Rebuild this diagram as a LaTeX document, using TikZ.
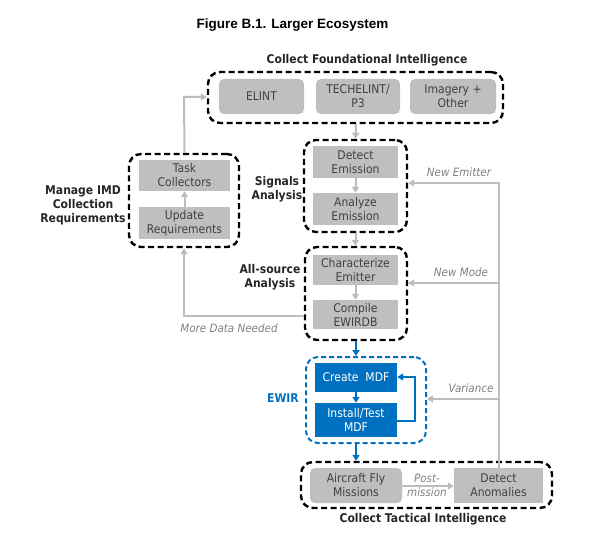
\documentclass[tikz,border=0pt]{standalone}
\usepackage{fontspec}
\usetikzlibrary{arrows.meta}
\newfontfamily\boxfont[FakeStretch=0.9]{DejaVu Sans}
\newfontfamily\titlefont{Liberation Sans}
\definecolor{boxgray}{HTML}{BFBFBF}
\definecolor{txtgray}{HTML}{404040}
\definecolor{lblgray}{HTML}{808080}
\definecolor{arrgray}{HTML}{BDBDBD}
\definecolor{ewblue}{HTML}{0070C0}
\definecolor{lbldark}{HTML}{262626}
\begin{document}
\begin{tikzpicture}[x=1pt,y=-1pt,
  container/.style={draw=black,line width=2.4pt,dash pattern=on 6pt off 3.5pt,rounded corners=12pt,inner sep=0pt},
  bluecontainer/.style={draw=ewblue,line width=2pt,dash pattern=on 5pt off 3pt,rounded corners=12pt,inner sep=0pt},
  graybox/.style={fill=boxgray,text=txtgray,inner sep=0pt,align=center,font=\boxfont\fontsize{12}{14}\selectfont},
  roundbox/.style={graybox,rounded corners=5pt},
  bluebox/.style={fill=ewblue,text=white,inner sep=0pt,align=center,font=\boxfont\fontsize{12}{14}\selectfont},
  boldlbl/.style={text=lbldark,align=center,font=\boxfont\bfseries\fontsize{12}{14}\selectfont},
  itlbl/.style={text=lblgray,align=center,font=\boxfont\itshape\fontsize{11.5}{13.5}\selectfont},
  garrow/.style={draw=arrgray,line width=2pt,-{Triangle[length=6pt,width=7pt]}},
  barrow/.style={draw=ewblue,line width=2.4pt,-{Triangle[length=6pt,width=7pt]}}
]
\useasboundingbox (0,0) rectangle (600,551);
% title
\node[font=\titlefont\bfseries\fontsize{13.5}{16}\selectfont] (title) at (292.5,25) {Figure B.1. Larger Ecosystem};

% containers
\node[container,minimum width=295pt,minimum height=51pt] (topbox) at (355.5,97.5) {};
\node[container,minimum width=103pt,minimum height=92pt] (sigbox) at (355.5,186) {};
\node[container,minimum width=110pt,minimum height=93pt] (manbox) at (184,200.5) {};
\node[container,minimum width=102pt,minimum height=93pt] (allbox) at (356,293.5) {};
\node[bluecontainer,minimum width=120pt,minimum height=86pt] (ewbox) at (366,400) {};
\node[container,minimum width=251pt,minimum height=46pt] (tacbox) at (426.5,485) {};

% top row
\node[roundbox,minimum width=85pt,minimum height=35pt] (elint) at (261.5,96.5) {ELINT};
\node[roundbox,minimum width=84pt,minimum height=35pt] (tech) at (358,96.5) {TECHELINT/\\P3};
\node[roundbox,minimum width=86pt,minimum height=35pt] (imag) at (453,96.5) {Imagery +\\Other};

% signals
\node[graybox,minimum width=85pt,minimum height=32pt] (detem) at (355.5,162) {Detect\\Emission};
\node[graybox,minimum width=85pt,minimum height=32pt] (anaem) at (355.5,209) {Analyze\\Emission};

% manage
\node[graybox,minimum width=91pt,minimum height=31pt] (task) at (184.5,175.5) {Task\\Collectors};
\node[graybox,minimum width=91pt,minimum height=32pt] (upd) at (184.5,223) {Update\\Requirements};

% all-source
\node[graybox,minimum width=85pt,minimum height=30pt] (char) at (355.5,270) {Characterize\\Emitter};
\node[graybox,minimum width=85pt,minimum height=29pt] (comp) at (355.5,314.5) {Compile\\EWIRDB};

% EWIR
\node[bluebox,minimum width=82pt,minimum height=29pt] (create) at (356,377.5) {Create\ \ MDF};
\node[bluebox,minimum width=82pt,minimum height=34pt] (inst) at (356,420) {Install/Test\\MDF};

% tactical
\node[roundbox,minimum width=92pt,minimum height=35pt] (fly) at (356,485.5) {Aircraft Fly\\Missions};
\node[graybox,minimum width=89pt,minimum height=35pt] (anom) at (498.5,485.5) {Detect\\Anomalies};

% labels
\node[boldlbl] (lcfi) at (367,60) {Collect Foundational Intelligence};
\node[boldlbl] (lsig) at (277,189) {Signals\\Analysis};
\node[boldlbl] (lman) at (83,205) {Manage IMD\\Collection\\Requirements};
\node[boldlbl] (lall) at (270,277) {All-source\\Analysis};
\node[boldlbl,text=ewblue] (lew) at (283,398) {EWIR};
\node[boldlbl] (lcti) at (423,519) {Collect Tactical Intelligence};
\node[itlbl] (lnewem) at (459,172) {New Emitter};
\node[itlbl] (lnewmo) at (461,272) {New Mode};
\node[itlbl] (lvar) at (471,388) {Variance};
\node[itlbl] (lmore) at (229,328) {More Data Needed};
\node[itlbl,font=\boxfont\itshape\fontsize{11.5}{14}\selectfont] (lpost) at (427,485) {Post-\\mission};

% coordinates
\coordinate (tc) at (184,97);
\coordinate (mc) at (184,316);
\coordinate (ve) at (499,183);
\coordinate (vm) at (499,283);
\coordinate (vv) at (499,399);
\coordinate (l1) at (415,421);
\coordinate (l2) at (415,377);

% gray arrows
\draw[garrow] (topbox.south -| tech.south -| 356,0) -- (sigbox.north);
\draw[garrow] (detem) -- (anaem);
\draw[garrow] (sigbox.south) -- (allbox.north -| sigbox.south);
\draw[garrow] (char) -- (comp);
\draw[garrow] (upd) -- (task);
\draw[garrow] (task.north |- manbox.north) -- (tc) -- (tc -| topbox.west);
\draw[garrow] (mc -| allbox.west) -- (mc) -- (mc |- manbox.south);
\draw[garrow] (anom.north -| ve) -- (ve) -- (ve -| sigbox.east);
\draw[garrow] (vm) -- (vm -| allbox.east);
\draw[garrow] (vv) -- (vv -| ewbox.east);
\draw[garrow] (fly.east |- 0,486) -- (anom.west |- 0,486);

% blue arrows
\draw[barrow] (allbox.south) -- (ewbox.north -| allbox.south);
\draw[barrow] (create) -- (inst);
\draw[barrow] (ewbox.south -| 356,0) -- (tacbox.north -| 356,0);
\draw[barrow,-{Triangle[length=6pt,width=7pt]}] (l1 -| inst.east) -- (l1) -- (l2) -- (l2 -| create.east);
\end{tikzpicture}
\end{document}
